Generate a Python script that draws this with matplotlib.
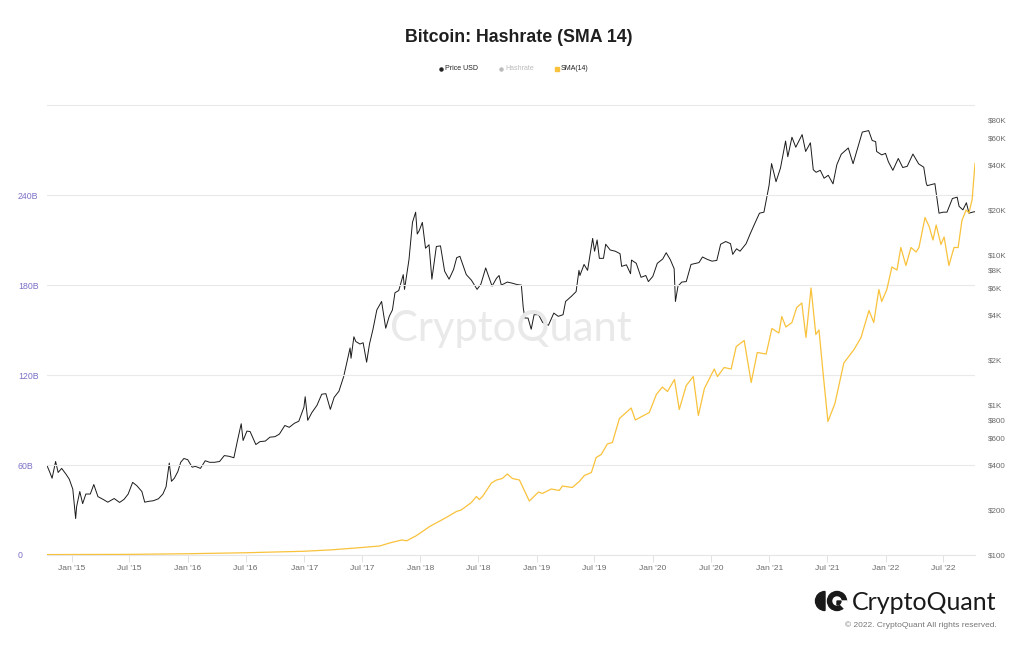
import matplotlib
matplotlib.use("Agg")
import matplotlib.pyplot as plt
import matplotlib.dates as mdates
from matplotlib.lines import Line2D
from matplotlib.patches import Wedge, Circle, Polygon
import numpy as np
import pandas as pd

# ---------------- data ----------------
price_dates = [
    "2014-10-16", "2014-10-25", "2014-11-01", "2014-11-12", "2014-11-20", "2014-12-01", "2014-12-15", "2014-12-25",
    "2015-01-05", "2015-01-14", "2015-01-17", "2015-01-27", "2015-02-05", "2015-02-15", "2015-03-01", "2015-03-12",
    "2015-03-25", "2015-04-10", "2015-04-25", "2015-05-15", "2015-06-01", "2015-06-15", "2015-06-28", "2015-07-12",
    "2015-07-25", "2015-08-10", "2015-08-19", "2015-09-01", "2015-09-15", "2015-10-01", "2015-10-15", "2015-10-25",
    "2015-11-04", "2015-11-11", "2015-11-20", "2015-12-01", "2015-12-10", "2015-12-20", "2016-01-01", "2016-01-15",
    "2016-01-25", "2016-02-10", "2016-02-25", "2016-03-10", "2016-03-25", "2016-04-10", "2016-04-25", "2016-05-10",
    "2016-05-25", "2016-06-05", "2016-06-17", "2016-06-23", "2016-07-05", "2016-07-15", "2016-08-02", "2016-08-15",
    "2016-09-01", "2016-09-15", "2016-10-01", "2016-10-15", "2016-11-01", "2016-11-15", "2016-12-01", "2016-12-15",
    "2016-12-31", "2017-01-04", "2017-01-12", "2017-01-25", "2017-02-10", "2017-02-25", "2017-03-10", "2017-03-24",
    "2017-04-05", "2017-04-20", "2017-05-05", "2017-05-25", "2017-05-28", "2017-06-06", "2017-06-12", "2017-06-25",
    "2017-07-05", "2017-07-16", "2017-07-25", "2017-08-05", "2017-08-17", "2017-09-01", "2017-09-14", "2017-09-25",
    "2017-10-05", "2017-10-13", "2017-10-25", "2017-11-08", "2017-11-12", "2017-11-26", "2017-12-07", "2017-12-17",
    "2017-12-22", "2017-12-28", "2018-01-07", "2018-01-17", "2018-01-28", "2018-02-06", "2018-02-20", "2018-03-05",
    "2018-03-18", "2018-04-01", "2018-04-15", "2018-04-25", "2018-05-05", "2018-05-25", "2018-06-10", "2018-06-28",
    "2018-07-10", "2018-07-25", "2018-08-14", "2018-08-28", "2018-09-05", "2018-09-12", "2018-10-01", "2018-10-15",
    "2018-11-01", "2018-11-14", "2018-11-20", "2018-11-25", "2018-12-05", "2018-12-15", "2018-12-24", "2019-01-07",
    "2019-01-20", "2019-02-07", "2019-02-24", "2019-03-10", "2019-03-25", "2019-04-02", "2019-04-20", "2019-05-05",
    "2019-05-14", "2019-05-17", "2019-05-30", "2019-06-10", "2019-06-26", "2019-07-02", "2019-07-10", "2019-07-17",
    "2019-07-30", "2019-08-06", "2019-08-20", "2019-09-05", "2019-09-20", "2019-09-25", "2019-10-10", "2019-10-23",
    "2019-10-26", "2019-11-10", "2019-11-25", "2019-12-10", "2019-12-18", "2020-01-01", "2020-01-15", "2020-02-01",
    "2020-02-12", "2020-02-25", "2020-03-08", "2020-03-12", "2020-03-20", "2020-04-01", "2020-04-15", "2020-04-30",
    "2020-05-10", "2020-05-25", "2020-06-05", "2020-06-20", "2020-07-05", "2020-07-20", "2020-08-01", "2020-08-17",
    "2020-09-01", "2020-09-08", "2020-09-20", "2020-10-01", "2020-10-20", "2020-11-01", "2020-11-15", "2020-12-01",
    "2020-12-15", "2020-12-31", "2021-01-08", "2021-01-22", "2021-02-05", "2021-02-21", "2021-02-28", "2021-03-13",
    "2021-03-25", "2021-04-14", "2021-04-25", "2021-05-10", "2021-05-19", "2021-05-28", "2021-06-10", "2021-06-22",
    "2021-07-05", "2021-07-20", "2021-08-01", "2021-08-15", "2021-09-06", "2021-09-21", "2021-10-01", "2021-10-20",
    "2021-11-09", "2021-11-20", "2021-12-01", "2021-12-04", "2021-12-20", "2022-01-01", "2022-01-10", "2022-01-24",
    "2022-02-10", "2022-02-24", "2022-03-10", "2022-03-28", "2022-04-15", "2022-05-01", "2022-05-09", "2022-05-12",
    "2022-05-25", "2022-06-05", "2022-06-13", "2022-06-18", "2022-07-01", "2022-07-13", "2022-07-30", "2022-08-14",
    "2022-08-20", "2022-09-01", "2022-09-12", "2022-09-20", "2022-10-01", "2022-10-09",
]
price_usd = [
    395, 355, 325, 420, 355, 378, 345, 320,
    275, 175, 210, 265, 220, 255, 255, 295,
    245, 235, 225, 238, 224, 235, 255, 305,
    290, 265, 225, 228, 230, 237, 255, 285,
    410, 310, 325, 360, 415, 440, 432, 385,
    390, 378, 425, 415, 415, 420, 460, 455,
    445, 575, 750, 580, 670, 665, 545, 570,
    575, 610, 615, 640, 730, 710, 755, 780,
    965, 1135, 790, 890, 995, 1180, 1190, 935,
    1125, 1235, 1550, 2400, 2050, 2850, 2650, 2550,
    2600, 1930, 2550, 3200, 4300, 4900, 3250, 3900,
    4300, 5600, 5800, 7400, 5900, 9300, 16500, 19300,
    13800, 14500, 16500, 11100, 11700, 6900, 11400, 11500,
    7800, 6900, 8000, 9600, 9800, 7400, 6800, 5900,
    6400, 8200, 6200, 7000, 7300, 6300, 6600, 6500,
    6350, 6300, 4450, 3800, 3800, 3200, 4000, 4000,
    3550, 3400, 4100, 3900, 4000, 4900, 5300, 5700,
    7900, 7300, 8650, 7900, 12900, 10600, 12600, 9500,
    9500, 11800, 10800, 10600, 10200, 8400, 8600, 7500,
    9250, 8800, 7100, 7300, 6650, 7200, 8800, 9400,
    10350, 9300, 8100, 4900, 6200, 6600, 6650, 8650,
    8750, 8900, 9700, 9350, 9100, 9200, 11800, 12300,
    11900, 10100, 11000, 10600, 11900, 13700, 16000, 19000,
    19300, 29000, 40700, 30800, 38000, 57500, 45200, 61000,
    52300, 63500, 49000, 56000, 37000, 35600, 36700, 32500,
    34000, 29800, 40000, 47000, 51700, 40600, 48000, 66000,
    67500, 58000, 57000, 49000, 46500, 47600, 41800, 36700,
    44000, 38300, 39000, 47100, 40500, 38500, 30000, 29000,
    29500, 29900, 22500, 19000, 19300, 19300, 23800, 24300,
    21100, 20000, 22300, 19000, 19300, 19450,
]

sma_dates = [
    "2014-10-16", "2015-01-01", "2015-07-01", "2016-01-01", "2016-07-01", "2017-01-01", "2017-04-01", "2017-07-01",
    "2017-08-26", "2017-09-26", "2017-11-03", "2017-11-19", "2017-12-20", "2018-01-30", "2018-03-23", "2018-04-24",
    "2018-05-09", "2018-06-10", "2018-06-26", "2018-07-05", "2018-07-15", "2018-08-12", "2018-08-28", "2018-09-15",
    "2018-10-01", "2018-10-17", "2018-11-08", "2018-12-09", "2019-01-07", "2019-01-19", "2019-02-16", "2019-03-13",
    "2019-03-23", "2019-04-23", "2019-05-15", "2019-05-31", "2019-06-22", "2019-07-07", "2019-07-23", "2019-08-11",
    "2019-08-27", "2019-09-18", "2019-10-25", "2019-11-07", "2019-12-21", "2020-01-12", "2020-01-31", "2020-02-16",
    "2020-03-09", "2020-03-24", "2020-04-15", "2020-05-07", "2020-05-23", "2020-06-11", "2020-07-12", "2020-07-22",
    "2020-08-12", "2020-09-03", "2020-09-19", "2020-10-14", "2020-11-05", "2020-11-24", "2020-12-22", "2021-01-09",
    "2021-01-31", "2021-02-09", "2021-02-22", "2021-03-13", "2021-03-28", "2021-04-13", "2021-04-26", "2021-05-12",
    "2021-05-27", "2021-06-06", "2021-06-18", "2021-07-04", "2021-07-26", "2021-08-23", "2021-09-24", "2021-10-16",
    "2021-11-10", "2021-11-25", "2021-12-11", "2021-12-20", "2022-01-05", "2022-01-21", "2022-02-06", "2022-02-18",
    "2022-03-06", "2022-03-22", "2022-04-07", "2022-04-16", "2022-05-05", "2022-05-18", "2022-05-30", "2022-06-09",
    "2022-06-24", "2022-07-04", "2022-07-19", "2022-08-04", "2022-08-17", "2022-08-29", "2022-09-11", "2022-09-20",
    "2022-09-30", "2022-10-09",
]
sma_hashrate_b = [
    0.28, 0.33, 0.42, 0.85, 1.5, 2.5, 3.5, 5.0,
    6.0, 8.0, 10.0, 9.5, 13.0, 19.0, 25.0, 29.0,
    30.0, 35.0, 39.0, 37.0, 39.0, 48.0, 50.0, 51.0,
    54.0, 51.0, 50.0, 36.0, 42.0, 41.0, 44.0, 43.0,
    46.0, 45.0, 49.0, 53.0, 55.0, 65.0, 67.0, 74.0,
    75.0, 91.0, 98.0, 90.0, 95.0, 107.0, 112.0, 109.0,
    117.0, 97.0, 113.0, 119.0, 93.0, 111.0, 124.0, 119.0,
    125.0, 124.0, 139.0, 143.0, 115.0, 135.0, 134.0, 151.0,
    148.0, 159.0, 152.0, 155.0, 165.0, 168.0, 145.0, 178.0,
    147.0, 150.0, 123.0, 89.0, 101.0, 128.0, 137.0, 145.0,
    163.0, 155.0, 177.0, 169.0, 177.0, 192.0, 190.0, 205.0,
    193.0, 205.0, 202.0, 205.0, 225.0, 219.0, 210.0, 220.0,
    207.0, 212.0, 193.0, 205.0, 205.0, 223.0, 230.0, 228.0,
    237.0, 261.0,
]

left_ticks = [0, 60, 120, 180, 240, 300]
left_labels = ["0", "60B", "120B", "180B", "240B", ""]
right_ticks = [100, 200, 400, 600, 800, 1000, 2000, 4000, 6000, 8000, 10000, 20000, 40000, 60000, 80000]
right_labels = ["$100", "$200", "$400", "$600", "$800", "$1K", "$2K", "$4K", "$6K", "$8K",
                "$10K", "$20K", "$40K", "$60K", "$80K"]

title = "Bitcoin: Hashrate (SMA 14)"
legend_labels = ["Price USD", "Hashrate", "SMA(14)"]

# ---------------- styling ----------------
plt.rcParams['font.family'] = ['Liberation Sans', 'DejaVu Sans']
YELLOW = '#f9c23c'
PURPLE = '#7a70c6'
GREY_TXT = '#6b6b6b'
GRID = '#e9e9e9'

W, H = 1024, 645
fig = plt.figure(figsize=(W / 100, H / 100), dpi=100)
fig.patch.set_facecolor('white')

x0, x1, ytop, ybot = 47, 975, 104, 555
ax = fig.add_axes([x0 / W, 1 - ybot / H, (x1 - x0) / W, (ybot - ytop) / H])
ax2 = ax.twinx()

pdates = pd.to_datetime(price_dates)
sdates = pd.to_datetime(sma_dates)

ax.plot(sdates, sma_hashrate_b, color=YELLOW, lw=0.9, zorder=3)
ax.set_ylim(0, 300.67)
ax.set_yticks(left_ticks)
ax.set_yticklabels(left_labels)
ax.grid(axis='y', color=GRID, lw=0.8)
ax.set_axisbelow(True)
ax.tick_params(axis='y', length=0, pad=21, labelsize=6.3, labelcolor=PURPLE)
for lbl in ax.get_yticklabels():
    lbl.set_horizontalalignment('left')

ax2.plot(pdates, price_usd, color='#1a1a1a', lw=0.7, zorder=4)
ax2.set_yscale('log')
ax2.set_ylim(100, 10 ** (2 + 451 / 150))
ax2.set_yticks(right_ticks)
ax2.set_yticklabels(right_labels)
ax2.yaxis.set_minor_locator(matplotlib.ticker.NullLocator())
ax2.tick_params(axis='y', length=0, pad=9.4, labelsize=5.8, labelcolor=GREY_TXT)

ax.set_xlim(pd.Timestamp("2014-10-16"), pd.Timestamp("2022-10-09"))
ax.xaxis.set_major_locator(mdates.MonthLocator(bymonth=[1, 7]))
ax.xaxis.set_major_formatter(mdates.DateFormatter("%b '%y"))
ax.tick_params(axis='x', length=5, width=0.6, color='#dddddd', pad=2, labelsize=6.1, labelcolor=GREY_TXT)

for a in (ax, ax2):
    for s in a.spines.values():
        s.set_visible(False)
ax.spines['bottom'].set_visible(True)
ax.spines['bottom'].set_color('#e6e6e6')
ax.spines['bottom'].set_linewidth(0.8)

ax.set_zorder(ax2.get_zorder() + 1)
ax.patch.set_visible(False)

# watermark
fig.text(511 / W, 1 - 329 / H, "CryptoQuant", fontsize=30, color='#e9e9e9',
         ha='center', va='center', family=['Lato', 'DejaVu Sans'], zorder=0)

# title
fig.text(519 / W, 1 - 38 / H, title, fontsize=12.8, fontweight='bold', color='#1f1f1f',
         ha='center', va='center')

# legend
leg_y = 1 - 69 / H
items = [(441, '#222222', 'o', legend_labels[0], '#222222'),
         (501, '#bbbbbb', 'o', legend_labels[1], '#bbbbbb'),
         (557, YELLOW, 's', legend_labels[2], '#222222')]
for xm, mc, mk, lab, tc in items:
    fig.add_artist(Line2D([xm / W], [leg_y], marker=mk, color=mc, markersize=2.2,
                          linestyle='', transform=fig.transFigure))
    fig.text((xm + 4) / W, leg_y, lab, fontsize=5, color=tc, ha='left', va='center')

# logo icon (equal-aspect mini axes)
lax = fig.add_axes([814 / W, 1 - 612 / H, 34 / W, 22 / H])
lax.set_xlim(0, 34)
lax.set_ylim(0, 22)
lax.set_aspect('equal')
lax.axis('off')
lax.add_patch(Wedge((11, 11), 9.5, 90, 270, color='#1a1a1a'))
lax.add_patch(Circle((23, 11), 9.5, color='#1a1a1a'))
lax.add_patch(Circle((23, 11), 4.0, color='white'))
lax.add_patch(Polygon([[23, 11], [33, 1], [33, 11]], closed=True, color='white'))
lax.add_patch(Wedge((23, 11), 4.0, 270, 360, color='#1a1a1a'))

fig.text(852 / W, 1 - 602 / H, "CryptoQuant", fontsize=18, color='#1a1a1a',
         ha='left', va='center', family=['Lato', 'DejaVu Sans'])
fig.text(997 / W, 1 - 625 / H, "\u00a9 2022. CryptoQuant All rights reserved.", fontsize=6,
         color='#777777', ha='right', va='center')

fig.savefig("out.png", dpi=100, facecolor='white')
